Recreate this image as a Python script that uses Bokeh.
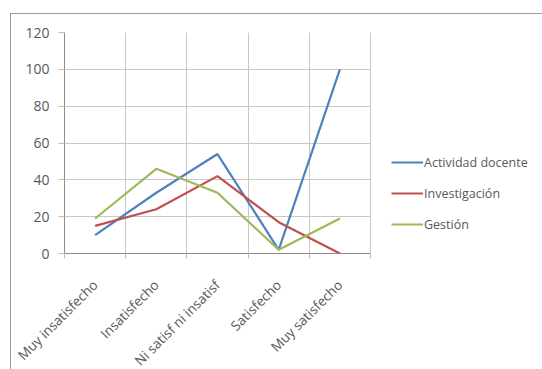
import math
from bokeh.plotting import figure
from bokeh.models import FixedTicker, Legend, LegendItem, ColumnDataSource
from bokeh.embed import file_html
from bokeh.resources import INLINE

categories = ["Muy insatisfecho", "Insatisfecho", "Ni satisf ni insatisf", "Satisfecho", "Muy satisfecho"]
actividad_docente = [10, 33, 54, 2, 100]
investigacion = [15, 24, 42, 17, 0]
gestion = [19, 46, 33, 2, 19]
series_names = ["Actividad docente", "Investigación", "Gestión"]
y_ticks = [0, 20, 40, 60, 80, 100, 120]

colors = ["#4F81BD", "#C0504D", "#9BBB59"]
FONT = "Open Sans"
TXT = "#595959"

n = len(categories)
xs = [i + 0.5 for i in range(n)]
centers = xs
bounds = list(range(n + 1))

# frame spans the plot area plus the legend area; the category area is 306 px wide
frame_w = 478
cat_w = 306
x_max = n * frame_w / cat_w

p = figure(width=532, height=375, x_range=(0, x_max), y_range=(0, 120),
           output_backend="svg", toolbar_location=None,
           min_border_left=53, min_border_top=18, min_border_right=1, min_border_bottom=136)
p.margin = (13, 0, 0, 10)
p.styles = {"border-top": "1px solid #9c9c9c", "border-left": "1px solid #9c9c9c"}
p.outline_line_color = None
p.background_fill_color = "white"
p.border_fill_color = "white"

p.xaxis.bounds = (0, n)
p.xaxis.ticker = FixedTicker(ticks=centers, minor_ticks=bounds)
p.xaxis.major_label_overrides = {c: lab for c, lab in zip(centers, categories)}
p.xaxis.major_label_orientation = math.pi / 4
p.xaxis.major_tick_out = 0
p.xaxis.major_tick_in = 0
p.xaxis.minor_tick_out = 5
p.xaxis.minor_tick_in = 0
p.xaxis.minor_tick_line_color = "#bfbfbf"
p.xaxis.axis_line_color = "#8c8c8c"
p.xaxis.major_label_text_font = FONT
p.xaxis.major_label_text_font_size = "13.5px"
p.xaxis.major_label_text_color = TXT
p.xaxis.major_label_standoff = 24

p.yaxis.ticker = FixedTicker(ticks=y_ticks)
p.yaxis.minor_tick_line_color = None
p.yaxis.major_tick_out = 6
p.yaxis.major_tick_in = 0
p.yaxis.major_tick_line_color = "#bfbfbf"
p.yaxis.axis_line_color = "#8c8c8c"
p.yaxis.major_label_text_font = FONT
p.yaxis.major_label_text_font_size = "14px"
p.yaxis.major_label_text_color = TXT
p.yaxis.major_label_standoff = 9

p.xgrid.ticker = FixedTicker(ticks=bounds)
p.xgrid.grid_line_color = "#c8c8c8"
p.ygrid.ticker = FixedTicker(ticks=y_ticks)
p.ygrid.grid_line_color = "#c8c8c8"
p.ygrid.cross_bounds = (0, n)

items = []
for name, vals, col in zip(series_names, [actividad_docente, investigacion, gestion], colors):
    src = ColumnDataSource(dict(x=xs, y=vals))
    r = p.line("x", "y", source=src, line_color=col, line_width=2.2)
    items.append(LegendItem(label=name, renderers=[r]))

legend = Legend(items=items, location=(327, 19), orientation="vertical",
                glyph_width=32, glyph_height=20, label_height=20, label_standoff=1,
                spacing=11, padding=0, margin=0,
                label_text_font=FONT, label_text_font_size="12.5px", label_text_color=TXT,
                border_line_color=None, background_fill_alpha=0)
p.add_layout(legend, "center")

open("out.html", "w").write(file_html(p, INLINE))
